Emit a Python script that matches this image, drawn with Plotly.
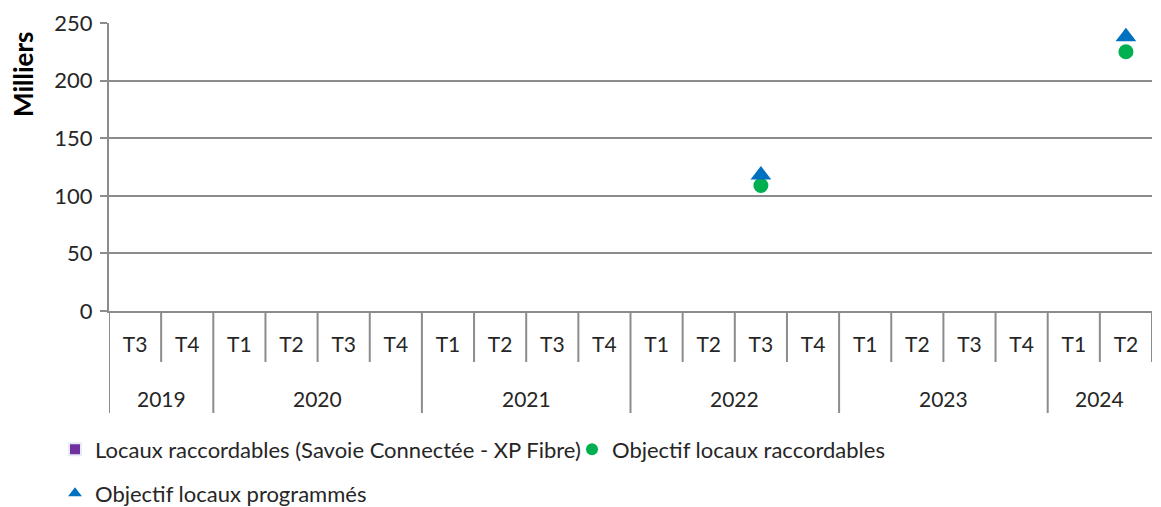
import plotly.graph_objects as go

years = ["2019", "2019",
         "2020", "2020", "2020", "2020",
         "2021", "2021", "2021", "2021",
         "2022", "2022", "2022", "2022",
         "2023", "2023", "2023", "2023",
         "2024", "2024"]
quarters = ["T3", "T4",
            "T1", "T2", "T3", "T4",
            "T1", "T2", "T3", "T4",
            "T1", "T2", "T3", "T4",
            "T1", "T2", "T3", "T4",
            "T1", "T2"]

locaux_raccordables = [None, None, None, None, None, None, None, None, None, None,
                       None, None, None, None, None, None, None, None, None, None]
objectif_raccordables = [None, None, None, None, None, None, None, None, None, None,
                         None, None, 109, None, None, None, None, None, None, 225]
objectif_programmes = [None, None, None, None, None, None, None, None, None, None,
                       None, None, 118, None, None, None, None, None, None, 238]

y_ticks = [0, 50, 100, 150, 200, 250]

FONT = "Lato"
GRAY = "#8c8c8c"
TXT = "#262626"

# The page shows the figure with the browser's default 8px body margin,
# so reference page pixels are converted to figure pixels by subtracting OFF.
OFF = 8
W, H = 1161, 507
PLOT_L, PLOT_R, PLOT_T, PLOT_B = 109 - OFF, 1152 - OFF, 23 - OFF, 311 - OFF
ML, MR, MT, MB = PLOT_L, W - PLOT_R, PLOT_T, H - PLOT_B
PW = PLOT_R - PLOT_L
PH = PLOT_B - PLOT_T


def px_x(page_px):
    return (page_px - OFF - PLOT_L) / PW


def px_y(page_px):
    return (PLOT_B - (page_px - OFF)) / PH


x_keys = [y + " " + q for y, q in zip(years, quarters)]

fig = go.Figure()
fig.add_trace(go.Bar(
    x=x_keys, y=locaux_raccordables,
    name="Locaux raccordables (Savoie Connectée - XP Fibre)",
    marker_color="#7030A0", legend="legend", showlegend=True))
fig.add_trace(go.Scatter(
    x=x_keys, y=objectif_raccordables, mode="markers",
    name="Objectif locaux raccordables",
    marker=dict(symbol="circle", size=15, color="#00B050"), legend="legend"))
fig.add_trace(go.Scatter(
    x=x_keys, y=objectif_programmes, mode="markers",
    name="Objectif locaux programmés",
    marker=dict(symbol="triangle-up", size=18, color="#0070C0"), legend="legend2"))

# Category boundary ticks (short) and year dividers (long)
shapes = []
n = len(quarters)
for b in range(n + 1):
    year_start = b < n and (b == 0 or years[b] != years[b - 1])
    length_px = 102 if year_start else 51
    shapes.append(dict(
        type="line", xref="x", yref="paper",
        x0=b - 0.5, x1=b - 0.5, y0=0, y1=-length_px / PH,
        line=dict(color=GRAY, width=2), layer="above"))

# Year labels centered under their quarters
annotations = []
seen = []
for y in years:
    if y not in seen:
        seen.append(y)
for y in seen:
    idx = [i for i, yy in enumerate(years) if yy == y]
    annotations.append(dict(
        text=y, showarrow=False, xref="x", yref="paper",
        x=sum(idx) / len(idx), y=px_y(398),
        xanchor="center", yanchor="middle",
        font=dict(family=FONT, size=21, color=TXT)))

annotations.append(dict(
    text="<b>Milliers</b>", textangle=-90, showarrow=False,
    xref="paper", yref="paper", x=px_x(23), y=px_y(74),
    xanchor="center", yanchor="middle",
    font=dict(family=FONT, size=26, color="#000000")))

fig.update_layout(
    width=W, height=H,
    margin=dict(l=ML, r=MR, t=MT, b=MB, autoexpand=False),
    paper_bgcolor="white", plot_bgcolor="white",
    font=dict(family=FONT, size=20, color=TXT),
    xaxis=dict(
        type="category", automargin=False,
        range=[-0.5, n - 0.5],
        tickvals=x_keys, ticktext=quarters,
        showgrid=False, zeroline=False,
        showline=True, linecolor=GRAY, linewidth=2,
        ticks="", ticklabelstandoff=14,
        tickfont=dict(family=FONT, size=21, color=TXT),
    ),
    yaxis=dict(
        range=[0, 250], tickvals=y_ticks, automargin=False,
        showgrid=True, gridcolor=GRAY, gridwidth=2,
        zeroline=False,
        showline=True, linecolor=GRAY, linewidth=2,
        ticks="outside", ticklen=7, tickcolor=GRAY, tickwidth=2,
        ticklabelstandoff=3,
        tickfont=dict(family=FONT, size=22, color=TXT),
    ),
    legend=dict(
        orientation="h", x=px_x(55), xanchor="left", y=px_y(428.5), yanchor="top",
        font=dict(family=FONT, size=22, color=TXT),
        itemwidth=30, itemsizing="constant", bgcolor="rgba(0,0,0,0)",
        entrywidth=472, entrywidthmode="pixels",
    ),
    legend2=dict(
        orientation="h", x=px_x(55), xanchor="left", y=px_y(472.5), yanchor="top",
        font=dict(family=FONT, size=22, color=TXT),
        itemwidth=30, itemsizing="constant", bgcolor="rgba(0,0,0,0)",
    ),
    shapes=shapes,
    annotations=annotations,
)

fig.write_html("out.html")
